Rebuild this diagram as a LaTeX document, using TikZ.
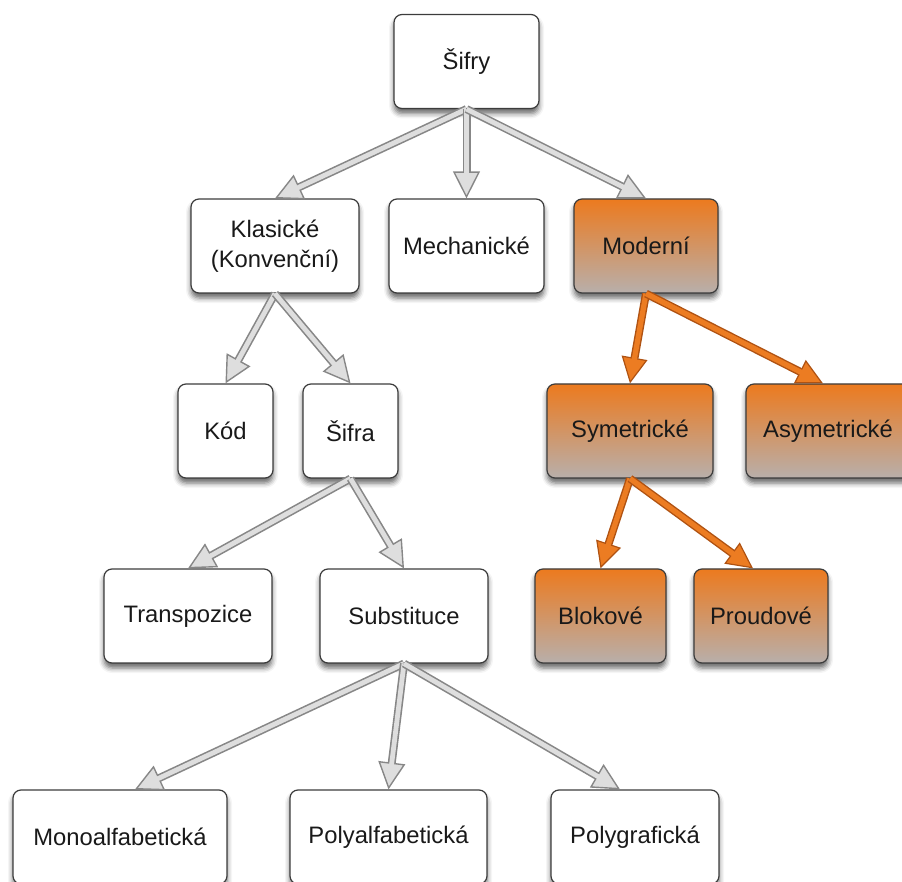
\documentclass[tikz,border=0pt]{standalone}
\usepackage{fontspec}
\setmainfont{Liberation Sans}
\usetikzlibrary{arrows.meta,shadows.blur}
\definecolor{LineClr}{RGB}{60,60,60}
\definecolor{ModTop}{RGB}{236,122,30}
\definecolor{ModMid}{RGB}{218,150,108}
\definecolor{ModBot}{RGB}{184,175,171}
\definecolor{ArrClr}{RGB}{135,135,135}
\definecolor{ArrFill}{RGB}{222,222,222}
\definecolor{OArrClr}{RGB}{175,82,18}
\definecolor{OArrFill}{RGB}{236,124,34}

\tikzset{
  box/.style={draw=LineClr, line width=0.6pt, rounded corners=4pt, fill=white,
    minimum height=47pt, align=center, text=black!90,
    font=\fontsize{11.9}{15}\selectfont,
    blur shadow={shadow xshift=0pt, shadow yshift=-2.5pt, shadow blur radius=2.5pt, shadow opacity=60}},
  modbox/.style={box, top color=ModTop, middle color=ModMid, bottom color=ModBot},
  garrow/.style={draw=ArrClr, line width=4pt,
    -{Triangle[length=13.5pt,width=13.5pt,fill=ArrFill,line width=0.7pt]},
    postaction={draw=ArrFill, line width=2.4pt, -, shorten >=11.5pt}},
  oarrow/.style={draw=OArrClr, line width=4pt,
    -{Triangle[length=13pt,width=13pt,fill=OArrFill,line width=0.6pt]},
    postaction={draw=OArrFill, line width=2.6pt, -, shorten >=11pt}}
}

\begin{document}
\begin{tikzpicture}[x=0.5pt,y=-0.5pt]
\clip (0,0) rectangle (902,882);

% Row 1.
\node[box, minimum width=72.5pt] (sifry) at (466.5,61.5) {Šifry};

% Row 2.
\node[box, minimum width=84pt] (klas) at (275,246) {Klasické\\(Konvenční)};
\node[box, minimum width=77.5pt] (mech) at (466.5,246) {Mechanické};
\node[modbox, minimum width=72pt] (mod) at (646,246) {Moderní};

% Row 3.
\node[box, minimum width=47.5pt] (kod) at (225.5,431) {Kód};
\node[box, minimum width=47.5pt] (sifra) at (350.5,431) {Šifra};
\node[modbox, minimum width=83pt] (sym) at (630,431) {Symetrické};
\node[modbox, minimum width=82pt] (asym) at (828,431) {Asymetrické};

% Row 4.
\node[box, minimum width=84pt] (trans) at (188,616) {Transpozice};
\node[box, minimum width=84pt] (subst) at (404,616) {Substituce};
\node[modbox, minimum width=65.5pt] (blok) at (600.5,616) {Blokové};
\node[modbox, minimum width=67pt] (proud) at (761,616) {Proudové};

% Row 5.
\node[box, minimum width=107pt] (mono) at (120,837) {Monoalfabetická};
\node[box, minimum width=98.5pt] (polya) at (388.5,837) {Polyalfabetická};
\node[box, minimum width=84pt] (polyg) at (635,837) {Polygrafická};

% Classic branch
\draw[garrow] (sifry.south) -- (klas.north);
\draw[garrow] (sifry.south) -- (mech.north);
\draw[garrow] (sifry.south) -- (mod.north);
\draw[garrow] (klas.south) -- (kod.north);
\draw[garrow] (klas.south) -- (sifra.north);
\draw[garrow] (sifra.south) -- (trans.north);
\draw[garrow] (sifra.south) -- (subst.north);
\draw[garrow] (subst.south) -- ([xshift=7.5pt]mono.north);
\draw[garrow] (subst.south) -- (polya.north);
\draw[garrow] (subst.south) -- ([xshift=-7.5pt]polyg.north);

% Modern branch
\draw[oarrow] (mod.south) -- (sym.north);
\draw[oarrow] (mod.south) -- ([xshift=-2.5pt]asym.north);
\draw[oarrow] (sym.south) -- (blok.north);
\draw[oarrow] (sym.south) -- ([xshift=-4pt]proud.north);

\end{tikzpicture}
\end{document}
